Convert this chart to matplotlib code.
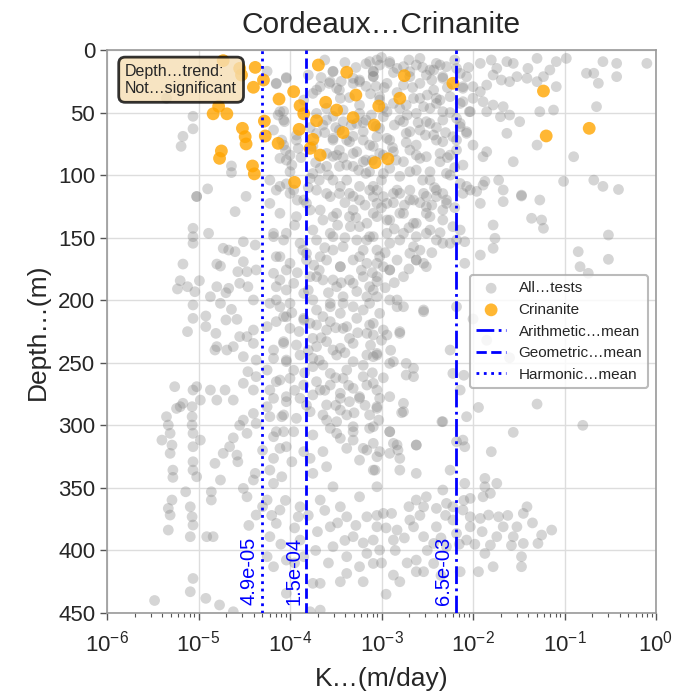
import numpy as np
import matplotlib
matplotlib.use('Agg')
import matplotlib.pyplot as plt

plt.rcParams['font.family'] = ['Liberation Sans', 'DejaVu Sans']

# ---------------- data (log10 K [m/day], depth [m]) ----------------
tests_shallow = [
    (-5.35, 38.6), (-5.06, 53), (-5.06, 63), (-5.17, 69), (-5.19, 77), (-5.02, 117), (-4.90, 111),
    (-4.64, 92.7), (-4.64, 98), (-4.48, 117),
    (-4.18, 64), (-4.13, 52), (-4.07, 49), (-4.07, 56), (-4.04, 22), (-4.09, 72), (-4.05, 80),
    (-4.04, 88), (-3.93, 72), (-3.98, 92), (-4.11, 109), (-4.04, 107), (-3.96, 112), (-4.22, 104),
    (-4.25, 17), (-4.15, 27),
    (-3.71, 32), (-3.53, 17), (-3.17, 11), (-3.09, 17), (-3.75, 34.7), (-3.57, 26.7), (-3.46, 32),
    (-3.31, 26.7), (-3.24, 24), (-3.17, 29), (-3.09, 21), (-3.71, 50.7), (-3.60, 56), (-3.53, 53),
    (-3.42, 48), (-3.24, 50.7), (-3.17, 56), (-3.06, 61), (-3.71, 66.7), (-3.53, 72), (-3.46, 64),
    (-3.31, 69), (-3.20, 72), (-3.09, 77), (-3.75, 77), (-3.60, 82.7), (-3.46, 80), (-3.31, 82.7),
    (-3.17, 88), (-3.60, 93), (-3.46, 93), (-3.31, 93), (-3.17, 98.7), (-3.68, 104), (-3.53, 104),
    (-3.38, 104), (-3.24, 109), (-3.09, 109), (-3.75, 98.7), (-3.60, 114.7), (-3.46, 114.7),
    (-3.31, 117), (-3.53, 85), (-3.38, 72), (-3.27, 58.7), (-3.02, 40), (-3.06, 29),
]
tests_shallow_core = [
    (-4.15, 26.6), (-4.04, 22.6), (-4.11, 49.3), (-4.06, 57.3), (-4.07, 76), (-4.00, 84),
    (-3.93, 68), (-3.91, 78.6), (-3.67, 29.3), (-3.56, 25.3), (-3.53, 17.3), (-3.49, 30.6),
    (-3.45, 38.6), (-3.31, 22.6), (-3.24, 25.3), (-3.13, 9.3), (-3.09, 17.3), (-3.02, 12),
    (-2.91, 9.3), (-2.83, 14.7), (-2.76, 28), (-2.69, 17.3), (-2.62, 12), (-2.51, 20),
    (-2.43, 16), (-2.36, 12), (-2.33, 22.6), (-2.18, 14.7), (-2.11, 30.6),
    (-3.64, 60), (-3.53, 70.6), (-3.42, 57.3), (-3.35, 73.3), (-3.20, 65.3), (-3.13, 76),
    (-3.02, 62.6), (-2.94, 70.6), (-2.87, 81.3), (-2.76, 57.3), (-2.69, 65.3), (-2.62, 76),
    (-2.51, 57.3), (-2.43, 68), (-2.33, 73.3), (-2.25, 84), (-2.18, 54.6), (-2.07, 65.3),
    (-3.49, 84), (-3.38, 92), (-3.27, 81.3), (-3.20, 89.3), (-3.13, 97.3), (-2.98, 84),
    (-2.91, 94.6), (-2.76, 89.3), (-2.69, 97.3), (-2.58, 86.6), (-2.47, 97.3), (-2.36, 89.3),
    (-2.25, 100), (-2.11, 92), (-3.67, 94.6), (-3.78, 102.6), (-4.00, 97.3), (-4.11, 86.6),
    (-3.60, 46.6), (-3.24, 44), (-2.94, 49.3), (-2.80, 46.6), (-2.73, 44), (-2.58, 38.6),
    (-2.47, 46.6), (-2.40, 38.6), (-2.33, 49.3), (-2.11, 41.3), (-2.04, 49.3),
]
tests_shallow_extra = [
    (-3.62, 8), (-3.40, 10), (-3.28, 14), (-3.00, 6), (-2.87, 18), (-2.70, 8), (-2.55, 14),
    (-2.45, 24), (-2.28, 30), (-2.20, 8), (-2.05, 14), (-3.80, 20), (-3.66, 22), (-3.44, 25),
    (-3.35, 38), (-3.12, 35), (-2.97, 30), (-2.83, 34), (-2.66, 30), (-2.50, 36), (-2.36, 40),
    (-2.25, 50), (-3.85, 40), (-3.78, 62), (-3.62, 66), (-3.50, 62), (-3.33, 60), (-3.20, 58),
    (-3.11, 52), (-2.98, 46), (-2.86, 60), (-2.72, 52), (-2.60, 58), (-2.52, 68), (-2.40, 62),
    (-2.30, 66), (-2.18, 72), (-3.88, 86), (-3.72, 90), (-3.58, 100), (-3.42, 86), (-3.25, 96),
    (-3.10, 88), (-3.00, 104), (-2.88, 78), (-2.73, 74), (-2.62, 84), (-2.55, 104), (-2.42, 110),
    (-2.28, 86), (-2.20, 94), (-3.92, 120), (-3.80, 110), (-3.40, 122), (-3.18, 124),
    (-3.00, 126), (-2.87, 122), (-2.75, 124), (-2.58, 122), (-2.45, 124), (-2.20, 126),
]
tests_shallow_right = [
    (-3.05, 8), (-2.91, 10.7), (-2.76, 13.3), (-2.58, 6.7), (-2.47, 16), (-2.40, 10.7),
    (-2.29, 13.3), (-2.14, 18.7), (-3.09, 21.3), (-2.94, 26.7), (-2.69, 21.3), (-2.58, 26.7),
    (-2.43, 32), (-2.33, 21.3), (-2.11, 29.3), (-3.02, 37.3), (-2.87, 42.7), (-2.65, 38.7),
    (-2.54, 45.3), (-2.40, 42.7), (-2.25, 37.3), (-2.14, 42.7), (-2.98, 53.3), (-2.80, 56),
    (-2.62, 50.7), (-2.47, 58.7), (-2.33, 56), (-2.14, 58.7), (-3.05, 69.3), (-2.91, 72),
    (-2.73, 66.7), (-2.58, 64), (-2.40, 72), (-2.22, 69.3), (-3.02, 82.7), (-2.84, 88),
    (-2.69, 80), (-2.51, 85.3), (-2.36, 82.7), (-2.18, 80), (-2.98, 98.7), (-2.80, 101),
    (-2.62, 96), (-2.47, 104), (-2.29, 98.7), (-2.14, 106.7), (-3.05, 112), (-2.87, 114.7),
    (-2.69, 112), (-2.51, 117), (-2.33, 114.7),
    (-1.92, 10.7), (-1.80, 8), (-1.74, 14.7), (-1.63, 9.3), (-1.56, 10.7), (-1.40, 14.7),
    (-1.30, 6.7), (-1.16, 16), (-1.09, 9.3), (-0.98, 6.7), (-0.76, 18.6), (-0.68, 18.6),
    (-0.58, 9.3), (-0.43, 10.7), (-0.43, 21.3), (-0.10, 10.7), (-0.63, 26.6), (-1.09, 29.3),
    (-1.23, 21.3), (-1.30, 25.3), (-1.41, 22.6), (-1.52, 21.3), (-1.60, 25.3), (-1.69, 24),
    (-1.78, 20), (-1.85, 28), (-1.92, 33.3), (-2.00, 29.3), (-2.07, 21.3), (-2.00, 38.6),
    (-1.89, 41.3), (-1.78, 44), (-1.67, 45.3), (-1.60, 52), (-1.49, 57.3), (-1.70, 53.3),
    (-1.85, 49.3), (-1.12, 48), (-1.27, 49.3), (-0.65, 45.3), (-1.63, 66.6), (-1.30, 76),
    (-0.90, 85.3), (-1.56, 89.3), (-1.85, 81.3), (-1.89, 85.3), (-2.00, 76), (-2.07, 66.6),
    (-2.14, 61.3), (-2.03, 49.3), (-1.72, 104), (-1.87, 105), (-1.01, 105), (-0.68, 104),
    (-1.89, 108), (-0.58, 109), (-0.41, 111.5), (-1.47, 116), (-1.96, 113), (-2.07, 109),
]
tests_middle = [
    (-4.15, 112), (-4.00, 114.6), (-3.85, 119.9), (-3.71, 112), (-3.56, 117.2), (-3.45, 109),
    (-3.35, 114.6), (-3.24, 119.9), (-3.13, 112), (-2.98, 117.2), (-2.83, 112), (-2.69, 119.9),
    (-2.54, 114.6), (-2.40, 112), (-2.29, 119.9), (-2.11, 114.6), (-4.11, 130.5), (-3.93, 133.2),
    (-3.78, 127.9), (-3.64, 135.9), (-3.49, 130.5), (-3.35, 133.2), (-3.24, 141.2), (-3.09, 130.5),
    (-2.94, 135.9), (-2.80, 130.5), (-2.65, 138.5), (-2.51, 130.5), (-2.33, 135.9), (-2.14, 143.9),
    (-4.18, 149.2), (-4.04, 146.5), (-3.89, 154.5), (-3.71, 151.9), (-3.56, 146.5), (-3.42, 157.2),
    (-3.27, 151.9), (-3.13, 149.2), (-3.05, 159.9), (-2.91, 154.5), (-2.76, 146.5), (-2.62, 149.2),
    (-2.47, 143.9), (-2.33, 154.5), (-2.18, 151.9), (-4.15, 165.2), (-4.00, 170.5), (-3.82, 167.8),
    (-3.67, 165.2), (-3.53, 159.9), (-3.45, 173.2), (-3.31, 167.8), (-3.16, 170.5), (-2.98, 173.2),
    (-2.91, 175.8), (-2.62, 167.8), (-2.51, 173.2), (-4.11, 183.8), (-3.96, 186.5), (-3.78, 181.2),
    (-3.64, 183.8), (-3.49, 189.2), (-3.35, 183.8), (-3.20, 181.2), (-3.13, 189.2), (-3.16, 197.2),
    (-4.15, 199.8), (-4.00, 202.5), (-3.85, 194.5), (-3.71, 207.8), (-3.56, 202.5), (-3.42, 197.2),
    (-3.31, 205.2), (-3.13, 202.5), (-3.02, 210.5), (-2.83, 199.8), (-2.76, 205.2), (-2.54, 209.2),
    (-2.18, 205.2), (-4.07, 213.1), (-3.85, 215.8), (-3.64, 213.1), (-3.45, 210.5), (-3.27, 214.5),
    (-3.82, 122.6), (-3.67, 127.9), (-3.53, 133.2), (-3.31, 127.9), (-3.16, 138.5), (-3.05, 122.6),
    (-3.75, 143.9), (-3.53, 149.2), (-3.34, 141.2), (-3.16, 151.9), (-3.82, 162.5), (-3.60, 167.9),
    (-3.45, 173.2), (-3.24, 165.2), (-3.05, 170.5), (-3.71, 181.2), (-3.53, 183.8), (-3.31, 186.5),
    (-3.09, 191.8), (-3.75, 199.8), (-3.56, 205.2), (-3.42, 202.5), (-3.20, 207.8), (-3.78, 218.5),
    (-3.60, 223.8), (-3.38, 221.1), (-3.16, 226.5), (-3.71, 237.1), (-3.53, 239.8), (-3.31, 234.5),
    (-3.09, 245.1), (-3.75, 253.1), (-3.56, 258.5), (-3.38, 255.8), (-3.20, 261.1), (-3.67, 271.8),
    (-3.45, 274.4), (-3.24, 277.1), (-3.05, 271.8),
]
tests_middle_extra = [
    (-3.95, 140), (-3.86, 160), (-3.74, 172), (-3.62, 158), (-3.48, 140), (-3.40, 150),
    (-3.28, 134), (-3.20, 160), (-3.10, 178), (-2.96, 162), (-2.86, 143), (-2.70, 142),
    (-2.58, 160), (-2.45, 162), (-2.36, 146), (-3.92, 178), (-3.80, 192), (-3.68, 176),
    (-3.58, 194), (-3.44, 186), (-3.27, 193), (-3.22, 176), (-3.05, 185), (-2.96, 190),
    (-2.86, 186), (-2.70, 175), (-3.98, 210), (-3.90, 225), (-3.80, 240), (-3.66, 230),
    (-3.50, 222), (-3.40, 242), (-3.26, 226), (-3.12, 236), (-3.00, 232), (-2.90, 240),
    (-3.96, 256), (-3.84, 258), (-3.68, 248), (-3.50, 262), (-3.36, 268), (-3.20, 252),
    (-3.10, 258), (-2.98, 262), (-3.95, 272), (-3.82, 284), (-3.62, 272), (-3.50, 284),
    (-3.30, 290), (-3.18, 284),
]
tests_middle_left = [
    (-5.02, 117.2), (-4.89, 146.5), (-5.06, 142.5), (-5.06, 149.2), (-5.06, 154.5), (-5.17, 171.1),
    (-5.20, 184.4), (-5.23, 191.0), (-5.12, 189.2), (-4.99, 184.4), (-5.04, 193.2), (-5.06, 203.8),
    (-5.06, 214.5), (-5.12, 225.1), (-4.92, 212.6), (-4.87, 197.2), (-4.80, 189.2), (-4.81, 226.5),
    (-4.76, 202.5), (-4.70, 194.0), (-4.67, 190.5), (-4.70, 215.8), (-4.64, 207.3), (-4.58, 215.3),
    (-4.92, 221.1), (-4.76, 172.7), (-4.80, 171.1), (-4.73, 158.5), (-4.67, 159.9), (-4.60, 161.2),
    (-4.60, 129.2), (-4.51, 153.2), (-4.51, 169.2), (-4.57, 177.2), (-4.47, 177.2), (-4.55, 186.5),
    (-4.38, 155.9), (-4.37, 175.8), (-4.46, 189.2), (-4.40, 199.8), (-4.55, 229.1), (-4.47, 229.1),
    (-4.40, 223.8), (-4.40, 234.5), (-4.51, 245.1), (-4.37, 247.8), (-4.46, 257.1), (-4.62, 237.1),
    (-4.69, 239.8), (-4.80, 237.1), (-4.82, 239.8), (-5.02, 269.1), (-5.06, 271.8), (-5.17, 282.4),
    (-5.26, 269.1), (-4.98, 279.8), (-4.87, 271.8), (-4.80, 279.8), (-4.71, 271.8), (-4.62, 279.8),
    (-4.51, 266.4), (-4.40, 271.8), (-4.37, 261.1),
    (-4.22, 122.6), (-4.18, 146.5), (-4.07, 151.9), (-4.11, 165.2), (-4.18, 178.5), (-4.04, 175.8),
    (-4.15, 189.2), (-4.04, 191.8), (-4.22, 202.5), (-4.11, 205.2), (-4.04, 213.2), (-4.25, 221.1),
    (-4.07, 234.5), (-4.18, 239.8), (-4.04, 247.8), (-4.25, 255.8), (-4.11, 263.8), (-4.22, 271.8),
    (-4.04, 277.1),
]
tests_middle_right = [
    (-3.09, 117.2), (-2.94, 122.6), (-2.80, 114.6), (-2.65, 119.9), (-2.51, 125.2), (-2.40, 117.2),
    (-2.29, 122.6), (-3.05, 133.2), (-2.91, 135.9), (-2.76, 130.6), (-2.62, 138.5), (-2.47, 133.2),
    (-2.33, 127.9), (-2.22, 141.2), (-3.09, 149.2), (-2.94, 146.5), (-2.80, 151.9), (-2.65, 157.2),
    (-2.51, 146.5), (-2.40, 151.9), (-2.25, 154.5), (-3.02, 165.2), (-2.83, 167.9), (-2.69, 162.5),
    (-2.54, 170.5), (-2.91, 175.8), (-3.05, 181.2), (-2.76, 181.2), (-2.62, 167.9), (-3.05, 197.2),
    (-2.91, 199.8), (-2.83, 205.2), (-2.54, 207.8), (-3.09, 218.5), (-2.98, 223.8), (-2.80, 226.5),
    (-3.05, 242.5), (-2.91, 250.5), (-2.73, 250.5), (-2.65, 261.1), (-2.25, 239.8), (-2.22, 258.5),
    (-3.09, 266.4), (-2.91, 277.1), (-2.76, 282.4), (-2.14, 271.8),
    (-2.03, 111.9), (-1.92, 122.6), (-1.67, 111.9), (-1.47, 116.7), (-1.36, 134.5), (-1.25, 135.9),
    (-1.23, 142.5), (-1.78, 139.9), (-1.76, 150.5), (-1.78, 158.5), (-1.92, 163.9), (-2.09, 153.2),
    (-2.09, 170.5), (-0.52, 147.9), (-0.85, 161.2), (-0.52, 167.3), (-0.83, 173.2), (-0.74, 178.5),
    (-1.67, 121.2), (-1.27, 119.9), (-2.00, 215), (-1.85, 232), (-1.60, 246), (-2.10, 260),
    (-1.30, 283), (-0.80, 300),
]
tests_deep = [
    (-4.15, 217.1), (-4.00, 222.5), (-3.85, 214.5), (-3.71, 219.8), (-3.56, 217.1), (-3.42, 222.5),
    (-3.13, 219.8), (-4.07, 233.1), (-3.93, 235.8), (-3.75, 230.5), (-3.60, 233.1), (-3.45, 238.4),
    (-3.35, 230.5), (-3.09, 227.8), (-2.94, 227.8), (-2.80, 225.1), (-4.18, 246.4), (-4.04, 249.1),
    (-3.89, 243.8), (-3.75, 246.4), (-3.64, 251.8), (-3.49, 243.8), (-3.31, 249.1), (-3.16, 243.8),
    (-3.05, 243.8), (-2.87, 249.1), (-2.73, 259.8), (-2.65, 254.4), (-4.15, 265.1), (-4.00, 262.4),
    (-3.85, 267.8), (-3.71, 265.1), (-3.56, 267.8), (-3.42, 262.4), (-3.31, 270.4), (-3.16, 267.8),
    (-4.18, 278.4), (-4.04, 281.1), (-3.89, 278.4), (-3.75, 275.7), (-3.60, 283.7), (-3.45, 278.4),
    (-3.35, 281.1), (-3.24, 278.4), (-3.02, 278.4), (-4.07, 291.7), (-3.93, 294.4), (-3.78, 289.1),
    (-3.64, 291.7), (-3.49, 297.1), (-3.38, 291.7), (-3.13, 291.7), (-3.05, 286.4), (-2.76, 289.1),
    (-2.33, 297.1), (-4.15, 305.1), (-3.96, 305.1), (-3.75, 307.7), (-3.56, 302.4), (-3.45, 310.4),
    (-3.31, 305.1), (-3.13, 302.4), (-2.91, 305.1), (-2.83, 315.7), (-2.62, 315.7), (-2.18, 313.1),
    (-4.11, 318.4), (-3.85, 321.0), (-3.64, 321.0), (-3.38, 318.4), (-3.20, 318.4), (-3.02, 321.0),
]
tests_deep_left = [
    (-5.40, 311.8), (-5.35, 293.1), (-5.33, 299.8), (-5.31, 306.4), (-5.29, 315.8), (-5.31, 322.4),
    (-5.28, 335.8), (-5.28, 341.6), (-5.29, 359.7), (-5.33, 366.4), (-5.31, 371.7), (-5.33, 383.7),
    (-5.24, 286.5), (-5.20, 285.1), (-5.07, 285.1), (-5.07, 293.1), (-5.07, 299.8), (-5.06, 306.4),
    (-5.06, 317.1), (-5.06, 329.1), (-5.06, 335.8), (-5.02, 341.1), (-5.09, 365.1), (-5.07, 373.1),
    (-5.06, 379.7), (-5.09, 389.0), (-5.06, 422.4), (-5.09, 433.0), (-4.92, 438.3), (-4.98, 311.8),
    (-4.91, 389.0), (-4.84, 389.0), (-5.14, 353.1), (-4.86, 359.7), (-4.86, 353.1), (-4.76, 343.7),
    (-4.82, 330.4), (-4.73, 322.4), (-4.66, 317.1), (-4.58, 323.8), (-4.57, 329.1), (-4.51, 350.4),
    (-4.47, 357.1), (-4.40, 343.7), (-4.38, 338.4), (-4.37, 371.7), (-4.51, 295.8), (-4.47, 306.4),
    (-4.40, 290.5), (-4.37, 298.5), (-4.25, 285.1), (-4.22, 293.1), (-4.09, 293.1), (-4.18, 309.1),
    (-4.07, 305.1), (-4.04, 317.1), (-3.98, 329.1), (-4.18, 326.4), (-4.22, 335.8), (-4.18, 346.4),
    (-4.09, 341.1), (-4.25, 359.7), (-4.11, 367.7), (-4.15, 378.4), (-4.22, 389.0), (-4.25, 405.0),
    (-4.18, 413.0), (-4.04, 407.7), (-4.04, 434.3), (-3.89, 365.1), (-3.91, 373.1), (-3.89, 391.7),
    (-3.85, 405.0), (-3.75, 426.3), (-3.67, 426.3), (-3.78, 326.4), (-3.75, 338.4), (-3.67, 359.7),
    (-3.60, 333.1), (-3.53, 349.1), (-3.45, 365.1), (-3.56, 381.1), (-3.38, 373.1), (-3.31, 389.0),
    (-3.53, 397.0), (-3.38, 405.0), (-3.24, 413.0), (-3.16, 402.4), (-3.09, 391.7), (-3.09, 335.8),
    (-3.24, 327.8), (-3.31, 311.8), (-3.49, 306.4), (-3.60, 295.8), (-3.45, 287.8), (-3.31, 301.1),
    (-3.16, 319.8), (-3.05, 349.1), (-3.24, 357.1), (-3.16, 373.1), (-3.38, 418.4), (-3.67, 447.7),
    (-3.78, 449.0), (-5.48, 440.0), (-4.77, 443.6), (-4.62, 449.0),
]
tests_deep_right = [
    (-3.05, 285.1), (-3.03, 295.8), (-2.78, 289.9), (-3.09, 301.1), (-2.91, 305.1), (-3.09, 314.4),
    (-2.87, 314.4), (-2.62, 315.8), (-2.82, 319.8), (-3.05, 325.1), (-2.91, 322.4), (-2.80, 326.4),
    (-3.07, 335.8), (-2.80, 335.8), (-2.62, 338.4), (-2.34, 297.1), (-2.07, 293.1), (-1.94, 285.7),
    (-1.56, 305.6), (-2.11, 311.8), (-2.09, 317.1), (-1.80, 321.1), (-2.25, 335.8), (-2.09, 346.4),
    (-1.87, 342.4), (-1.74, 346.4), (-1.87, 349.1), (-1.81, 354.4), (-1.89, 357.1), (-2.03, 358.4),
    (-2.33, 351.7), (-2.51, 357.1), (-2.62, 359.7), (-2.54, 365.1), (-2.40, 366.4), (-2.29, 362.4),
    (-2.22, 365.1), (-2.11, 367.7), (-2.03, 373.1), (-1.92, 374.4), (-1.83, 371.7), (-1.72, 373.1),
    (-1.67, 381.1), (-1.74, 389.0), (-1.81, 395.7), (-1.56, 389.0), (-1.52, 381.1), (-1.45, 370.4),
    (-1.41, 365.1), (-1.45, 394.4), (-1.29, 394.4), (-1.25, 387.7), (-1.14, 383.7), (-1.47, 405.0),
    (-1.47, 413.0), (-1.78, 413.0), (-1.87, 402.4), (-1.94, 417.0), (-2.07, 391.7), (-2.18, 386.4),
    (-2.29, 397.0), (-2.43, 394.4), (-2.54, 389.0), (-2.65, 381.1), (-2.83, 383.7), (-3.05, 381.1),
    (-2.87, 391.7), (-3.02, 399.7), (-2.62, 407.7), (-2.62, 417.0), (-2.54, 417.0), (-2.87, 419.7),
    (-2.80, 425.0), (-2.43, 410.4), (-2.14, 417.0), (-3.09, 410.4), (-2.98, 370.4), (-2.89, 370.4),
    (-2.69, 375.7), (-2.40, 381.1), (-2.22, 375.7), (-2.03, 381.1),
]
tests_deep_extra = [
    (-4.30, 365), (-4.20, 372), (-4.05, 360), (-3.95, 382), (-3.80, 372), (-3.70, 385),
    (-3.62, 368), (-3.48, 378), (-3.40, 392), (-3.28, 380), (-3.20, 394), (-3.05, 372),
    (-2.95, 382), (-2.85, 400), (-2.75, 390), (-2.70, 365), (-2.58, 372), (-2.50, 400),
    (-2.35, 390), (-2.30, 372), (-2.15, 395), (-2.10, 360), (-1.98, 395), (-1.90, 385),
    (-1.62, 372), (-1.58, 396), (-1.35, 378), (-4.10, 395), (-3.95, 410), (-3.72, 400),
    (-3.58, 410), (-3.45, 425), (-3.20, 425), (-3.00, 410), (-2.95, 435), (-2.72, 410),
    (-2.35, 420), (-4.45, 380), (-4.55, 300), (-4.62, 310), (-4.30, 320),
]

crinanite = [
    (-4.73, 8.5), (-4.55, 14.7), (-4.53, 20), (-4.38, 13.9), (-4.29, 24), (-4.40, 29.8),
    (-3.69, 12), (-3.38, 17.8), (-3.96, 33.3), (-4.12, 39.2), (-3.89, 44.5), (-3.61, 41.8),
    (-3.49, 48), (-3.28, 36), (-3.31, 54), (-4.78, 45), (-4.84, 51), (-4.69, 51), (-3.85, 51),
    (-3.71, 56.5), (-3.90, 63.4), (-4.28, 56.8), (-4.27, 68.7), (-4.52, 62.6), (-4.49, 69.3),
    (-4.48, 75.1), (-4.13, 74.6), (-3.75, 71.4), (-3.78, 78.6), (-3.67, 84), (-3.42, 66),
    (-4.75, 80.7), (-4.77, 86.6), (-4.41, 92.7), (-4.39, 99), (-3.95, 105.8),
    (-2.75, 20.5), (-2.80, 38.6), (-3.03, 44.8), (-3.08, 60), (-3.07, 90), (-2.93, 87),
    (-2.22, 26.6), (-1.23, 32.8), (-1.20, 68.7), (-0.73, 62.6),
]

arithmetic_mean = 6.5e-3
geometric_mean = 1.5e-4
harmonic_mean = 4.9e-5

title = 'Cordeaux…Crinanite'
trend_text = 'Depth…trend:\nNot…significant'
y_ticks = [0, 50, 100, 150, 200, 250, 300, 350, 400, 450]
x_ticks = [1e-6, 1e-5, 1e-4, 1e-3, 1e-2, 1e-1, 1e0]

# ---------------- plot ----------------
all_tests = (tests_shallow + tests_shallow_core + tests_shallow_extra + tests_shallow_right
             + tests_middle + tests_middle_extra + tests_middle_left + tests_middle_right
             + tests_deep + tests_deep_left + tests_deep_right + tests_deep_extra)
all_logk = np.array([p[0] for p in all_tests])
all_depth = np.array([p[1] for p in all_tests])
cr_logk = np.array([p[0] for p in crinanite])
cr_depth = np.array([p[1] for p in crinanite])

text_col = '#262626'
fig = plt.figure(figsize=(6.94, 6.97), dpi=100)
ax = fig.add_axes([107 / 694, 1 - 613 / 697, 549 / 694, 563 / 697])

ax.scatter(10 ** all_logk, all_depth, s=60, c='gray', alpha=0.33, edgecolors='none',
           label='All…tests', zorder=2)
ax.scatter(10 ** cr_logk, cr_depth, s=85, c='orange', alpha=0.8, edgecolors='none',
           label='Crinanite', zorder=3)

ax.axvline(arithmetic_mean, color='blue', ls='-.', lw=2, label='Arithmetic…mean', zorder=4)
ax.axvline(geometric_mean, color='blue', ls='--', lw=2, label='Geometric…mean', zorder=4)
ax.axvline(harmonic_mean, color='blue', ls=':', lw=2, label='Harmonic…mean', zorder=4)
for v in (arithmetic_mean, geometric_mean, harmonic_mean):
    ax.text(v * 0.93, 444, f'{v:.1e}', rotation=90, color='blue', ha='right', va='bottom',
            fontsize=14.5, zorder=5)

ax.set_xscale('log')
ax.set_xticks(x_ticks)
ax.set_xlim(1e-6, 1)
ax.set_ylim(450, 0)
ax.set_yticks(y_ticks)
ax.grid(True, color='#dddddd', lw=1, zorder=0)
ax.set_axisbelow(True)
for sp in ax.spines.values():
    sp.set_color('#999999')
    sp.set_linewidth(1.2)
ax.tick_params(axis='both', which='major', labelsize=16, length=5, width=1, color='#555555',
               labelcolor=text_col)
ax.tick_params(axis='x', which='major', pad=8)
ax.tick_params(axis='x', which='minor', length=3, width=0.8, color='#555555')

ax.set_title(title, fontsize=21.5, color=text_col, pad=12)
ax.set_xlabel('K…(m/day)', fontsize=19, color=text_col, labelpad=7)
ax.set_ylabel('Depth…(m)', fontsize=19, color=text_col, labelpad=6)

ax.text(0.033, 0.976, trend_text, transform=ax.transAxes, va='top', ha='left', fontsize=11.5,
        color=text_col, zorder=6,
        bbox=dict(boxstyle='round,pad=0.4', facecolor='wheat', alpha=0.8, edgecolor='black', lw=2))

leg = ax.legend(loc='center right', fontsize=11, frameon=True, fancybox=True)
leg.get_frame().set_edgecolor('#aaaaaa')
leg.get_frame().set_linewidth(1.5)
for t in leg.get_texts():
    t.set_color(text_col)

fig.savefig('out.png', dpi=100)
